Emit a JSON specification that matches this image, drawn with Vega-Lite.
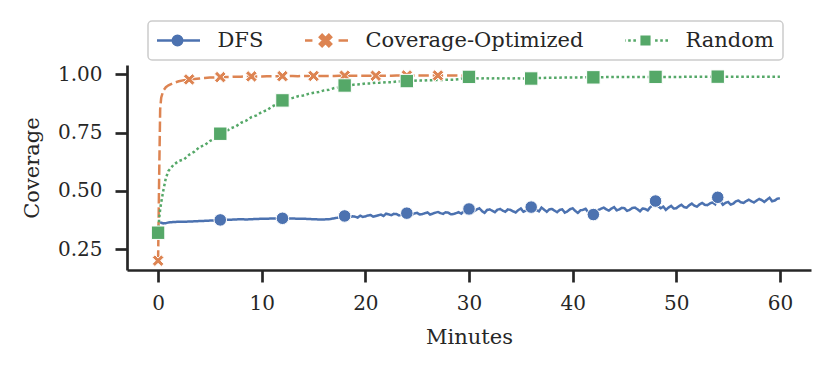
{
  "$schema": "https://vega.github.io/schema/vega-lite/v6.json",
  "width": 684,
  "height": 205,
  "autosize": "none",
  "padding": {"left": 127, "top": 65, "right": 20, "bottom": 101},
  "background": "white",
  "config": {
    "view": {"stroke": null},
    "axis": {
      "grid": false,
      "domainColor": "#262626",
      "domainWidth": 2.7,
      "tickColor": "#262626",
      "tickWidth": 2.7,
      "tickSize": 12,
      "labelFont": "DejaVu Serif",
      "labelFontSize": 20,
      "labelColor": "#262626",
      "titleFont": "DejaVu Serif",
      "titleFontSize": 21,
      "titleFontWeight": "normal",
      "titleColor": "#262626"
    },
    "legend": {
      "labelFont": "DejaVu Serif",
      "labelFontSize": 21,
      "labelColor": "#262626"
    }
  },
  "data": {
    "values": [
      {"t": 0, "Coverage-Optimized": 0.2, "Random": 0.32},
      {"t": 0.1, "Coverage-Optimized": 0.55, "Random": 0.38},
      {"t": 0.2, "DFS": 0.365, "Coverage-Optimized": 0.85, "Random": 0.42},
      {"t": 0.3, "DFS": 0.363, "Coverage-Optimized": 0.9, "Random": 0.45},
      {"t": 0.5, "DFS": 0.36, "Coverage-Optimized": 0.93, "Random": 0.5},
      {"t": 0.75, "DFS": 0.361, "Coverage-Optimized": 0.945, "Random": 0.555},
      {"t": 1, "DFS": 0.364, "Coverage-Optimized": 0.953, "Random": 0.585},
      {"t": 1.5, "DFS": 0.366, "Coverage-Optimized": 0.963, "Random": 0.612},
      {"t": 2, "DFS": 0.367, "Coverage-Optimized": 0.97, "Random": 0.628},
      {"t": 2.5, "DFS": 0.367, "Coverage-Optimized": 0.975, "Random": 0.635},
      {"t": 3, "DFS": 0.368, "Coverage-Optimized": 0.978, "Random": 0.655},
      {"t": 3.5, "DFS": 0.369, "Coverage-Optimized": 0.98, "Random": 0.668},
      {"t": 4, "DFS": 0.37, "Coverage-Optimized": 0.982, "Random": 0.688},
      {"t": 4.5, "DFS": 0.371, "Coverage-Optimized": 0.984, "Random": 0.696},
      {"t": 5, "DFS": 0.372, "Coverage-Optimized": 0.986, "Random": 0.714},
      {"t": 5.5, "DFS": 0.373, "Coverage-Optimized": 0.987, "Random": 0.725},
      {"t": 6, "DFS": 0.375, "Coverage-Optimized": 0.988, "Random": 0.745},
      {"t": 6.5, "DFS": 0.376, "Coverage-Optimized": 0.989, "Random": 0.752},
      {"t": 7, "DFS": 0.376, "Coverage-Optimized": 0.989, "Random": 0.768},
      {"t": 7.5, "DFS": 0.377, "Coverage-Optimized": 0.99, "Random": 0.776},
      {"t": 8, "DFS": 0.378, "Coverage-Optimized": 0.99, "Random": 0.792},
      {"t": 8.5, "DFS": 0.377, "Coverage-Optimized": 0.991, "Random": 0.801},
      {"t": 9, "DFS": 0.378, "Coverage-Optimized": 0.991, "Random": 0.816},
      {"t": 9.5, "DFS": 0.379, "Coverage-Optimized": 0.991, "Random": 0.824},
      {"t": 10, "DFS": 0.38, "Coverage-Optimized": 0.991, "Random": 0.838},
      {"t": 10.5, "DFS": 0.38, "Coverage-Optimized": 0.992, "Random": 0.846},
      {"t": 11, "DFS": 0.381, "Coverage-Optimized": 0.992, "Random": 0.862},
      {"t": 11.5, "DFS": 0.381, "Coverage-Optimized": 0.992, "Random": 0.872},
      {"t": 12, "DFS": 0.382, "Coverage-Optimized": 0.992, "Random": 0.888},
      {"t": 12.5, "DFS": 0.381, "Coverage-Optimized": 0.992, "Random": 0.893},
      {"t": 13, "DFS": 0.381, "Coverage-Optimized": 0.993, "Random": 0.899},
      {"t": 13.5, "DFS": 0.38, "Coverage-Optimized": 0.992, "Random": 0.906},
      {"t": 14, "DFS": 0.38, "Coverage-Optimized": 0.993, "Random": 0.909},
      {"t": 14.5, "DFS": 0.379, "Coverage-Optimized": 0.993, "Random": 0.916},
      {"t": 15, "DFS": 0.378, "Coverage-Optimized": 0.993, "Random": 0.921},
      {"t": 15.5, "DFS": 0.377, "Coverage-Optimized": 0.993, "Random": 0.924},
      {"t": 16, "DFS": 0.377, "Coverage-Optimized": 0.993, "Random": 0.931},
      {"t": 16.5, "DFS": 0.378, "Coverage-Optimized": 0.993, "Random": 0.934},
      {"t": 17, "DFS": 0.382, "Coverage-Optimized": 0.993, "Random": 0.941},
      {"t": 17.5, "DFS": 0.386, "Coverage-Optimized": 0.994, "Random": 0.944},
      {"t": 18, "DFS": 0.392, "Coverage-Optimized": 0.994, "Random": 0.952},
      {"t": 18.5, "DFS": 0.386, "Coverage-Optimized": 0.994, "Random": 0.953},
      {"t": 19, "DFS": 0.389, "Coverage-Optimized": 0.994, "Random": 0.956},
      {"t": 19.5, "DFS": 0.393, "Coverage-Optimized": 0.994, "Random": 0.957},
      {"t": 20, "DFS": 0.39, "Coverage-Optimized": 0.994, "Random": 0.961},
      {"t": 20.5, "DFS": 0.396, "Coverage-Optimized": 0.994, "Random": 0.961},
      {"t": 21, "DFS": 0.392, "Coverage-Optimized": 0.994, "Random": 0.964},
      {"t": 21.5, "DFS": 0.398, "Coverage-Optimized": 0.994, "Random": 0.964},
      {"t": 22, "DFS": 0.402, "Coverage-Optimized": 0.994, "Random": 0.966},
      {"t": 22.5, "DFS": 0.395, "Coverage-Optimized": 0.994, "Random": 0.966},
      {"t": 23, "DFS": 0.4, "Coverage-Optimized": 0.995, "Random": 0.969},
      {"t": 23.5, "DFS": 0.397, "Coverage-Optimized": 0.995, "Random": 0.97},
      {"t": 24, "DFS": 0.404, "Coverage-Optimized": 0.995, "Random": 0.971},
      {"t": 24.5, "DFS": 0.398, "Coverage-Optimized": 0.995, "Random": 0.972},
      {"t": 25, "DFS": 0.405, "Coverage-Optimized": 0.995, "Random": 0.974},
      {"t": 25.5, "DFS": 0.4, "Coverage-Optimized": 0.995, "Random": 0.973},
      {"t": 26, "DFS": 0.407, "Coverage-Optimized": 0.995, "Random": 0.975},
      {"t": 26.5, "DFS": 0.402, "Coverage-Optimized": 0.995, "Random": 0.975},
      {"t": 27, "DFS": 0.409, "Coverage-Optimized": 0.995, "Random": 0.976},
      {"t": 27.5, "DFS": 0.401, "Coverage-Optimized": 0.995, "Random": 0.976},
      {"t": 28, "DFS": 0.406, "Coverage-Optimized": 0.995, "Random": 0.977},
      {"t": 28.5, "DFS": 0.4, "Coverage-Optimized": 0.995, "Random": 0.977},
      {"t": 29, "DFS": 0.408, "Coverage-Optimized": 0.995, "Random": 0.979},
      {"t": 29.5, "DFS": 0.412, "Coverage-Optimized": 0.994, "Random": 0.983},
      {"t": 30, "DFS": 0.422, "Random": 0.989},
      {"t": 30.5, "DFS": 0.412, "Random": 0.983},
      {"t": 31, "DFS": 0.425, "Random": 0.982},
      {"t": 31.5, "DFS": 0.405, "Random": 0.983},
      {"t": 32, "DFS": 0.42, "Random": 0.982},
      {"t": 32.5, "DFS": 0.408, "Random": 0.983},
      {"t": 33, "DFS": 0.422, "Random": 0.982},
      {"t": 33.5, "DFS": 0.41, "Random": 0.983},
      {"t": 34, "DFS": 0.418, "Random": 0.982},
      {"t": 34.5, "DFS": 0.407, "Random": 0.983},
      {"t": 35, "DFS": 0.424, "Random": 0.982},
      {"t": 35.5, "DFS": 0.415, "Random": 0.982},
      {"t": 36, "DFS": 0.43, "Random": 0.982},
      {"t": 36.5, "DFS": 0.418, "Random": 0.984},
      {"t": 37, "DFS": 0.428, "Random": 0.984},
      {"t": 37.5, "DFS": 0.41, "Random": 0.985},
      {"t": 38, "DFS": 0.422, "Random": 0.985},
      {"t": 38.5, "DFS": 0.408, "Random": 0.985},
      {"t": 39, "DFS": 0.42, "Random": 0.986},
      {"t": 39.5, "DFS": 0.412, "Random": 0.986},
      {"t": 40, "DFS": 0.425, "Random": 0.986},
      {"t": 40.5, "DFS": 0.405, "Random": 0.986},
      {"t": 41, "DFS": 0.418, "Random": 0.987},
      {"t": 41.5, "DFS": 0.408, "Random": 0.987},
      {"t": 42, "DFS": 0.398, "Random": 0.987},
      {"t": 42.5, "DFS": 0.418, "Random": 0.987},
      {"t": 43, "DFS": 0.428, "Random": 0.988},
      {"t": 43.5, "DFS": 0.415, "Random": 0.988},
      {"t": 44, "DFS": 0.43, "Random": 0.988},
      {"t": 44.5, "DFS": 0.42, "Random": 0.988},
      {"t": 45, "DFS": 0.425, "Random": 0.988},
      {"t": 45.5, "DFS": 0.418, "Random": 0.988},
      {"t": 46, "DFS": 0.428, "Random": 0.989},
      {"t": 46.5, "DFS": 0.412, "Random": 0.989},
      {"t": 47, "DFS": 0.422, "Random": 0.989},
      {"t": 47.5, "DFS": 0.43, "Random": 0.989},
      {"t": 48, "DFS": 0.456, "Random": 0.989},
      {"t": 48.5, "DFS": 0.425, "Random": 0.989},
      {"t": 49, "DFS": 0.418, "Random": 0.989},
      {"t": 49.5, "DFS": 0.435, "Random": 0.989},
      {"t": 50, "DFS": 0.425, "Random": 0.989},
      {"t": 50.5, "DFS": 0.44, "Random": 0.989},
      {"t": 51, "DFS": 0.428, "Random": 0.99},
      {"t": 51.5, "DFS": 0.445, "Random": 0.99},
      {"t": 52, "DFS": 0.432, "Random": 0.99},
      {"t": 52.5, "DFS": 0.448, "Random": 0.99},
      {"t": 53, "DFS": 0.438, "Random": 0.99},
      {"t": 53.5, "DFS": 0.45, "Random": 0.99},
      {"t": 54, "DFS": 0.472, "Random": 0.99},
      {"t": 54.5, "DFS": 0.44, "Random": 0.99},
      {"t": 55, "DFS": 0.452, "Random": 0.99},
      {"t": 55.5, "DFS": 0.445, "Random": 0.99},
      {"t": 56, "DFS": 0.458, "Random": 0.99},
      {"t": 56.5, "DFS": 0.448, "Random": 0.99},
      {"t": 57, "DFS": 0.462, "Random": 0.99},
      {"t": 57.5, "DFS": 0.45, "Random": 0.99},
      {"t": 58, "DFS": 0.465, "Random": 0.99},
      {"t": 58.5, "DFS": 0.452, "Random": 0.99},
      {"t": 59, "DFS": 0.47, "Random": 0.99},
      {"t": 59.5, "DFS": 0.458, "Random": 0.99},
      {"t": 60, "DFS": 0.468, "Random": 0.99},
      {"t": 18.25, "DFS": 0.385}, {"t": 18.75, "DFS": 0.391}, {"t": 19.25, "DFS": 0.385}, {"t": 19.75, "DFS": 0.388},
      {"t": 20.25, "DFS": 0.394}, {"t": 20.75, "DFS": 0.389}, {"t": 21.25, "DFS": 0.395}, {"t": 21.75, "DFS": 0.392},
      {"t": 22.25, "DFS": 0.399}, {"t": 22.75, "DFS": 0.401}, {"t": 23.25, "DFS": 0.394}, {"t": 23.75, "DFS": 0.402},
      {"t": 24.25, "DFS": 0.399}, {"t": 24.75, "DFS": 0.403}, {"t": 25.25, "DFS": 0.398}, {"t": 25.75, "DFS": 0.404},
      {"t": 26.25, "DFS": 0.398}, {"t": 26.75, "DFS": 0.406}, {"t": 27.25, "DFS": 0.404}, {"t": 27.75, "DFS": 0.408},
      {"t": 28.25, "DFS": 0.399}, {"t": 28.75, "DFS": 0.404}, {"t": 29.25, "DFS": 0.402}, {"t": 29.75, "DFS": 0.416},
      {"t": 30.25, "DFS": 0.418}, {"t": 30.75, "DFS": 0.42}, {"t": 31.25, "DFS": 0.413}, {"t": 31.75, "DFS": 0.418},
      {"t": 32.25, "DFS": 0.414}, {"t": 32.75, "DFS": 0.419}, {"t": 33.25, "DFS": 0.415}, {"t": 33.75, "DFS": 0.42},
      {"t": 34.25, "DFS": 0.412}, {"t": 34.75, "DFS": 0.417}, {"t": 35.25, "DFS": 0.41}, {"t": 35.75, "DFS": 0.421},
      {"t": 36.25, "DFS": 0.414}, {"t": 36.75, "DFS": 0.412}, {"t": 37.25, "DFS": 0.419}, {"t": 37.75, "DFS": 0.42},
      {"t": 38.25, "DFS": 0.415}, {"t": 38.75, "DFS": 0.418}, {"t": 39.25, "DFS": 0.406}, {"t": 39.75, "DFS": 0.421},
      {"t": 40.25, "DFS": 0.414}, {"t": 40.75, "DFS": 0.416}, {"t": 41.25, "DFS": 0.423}, {"t": 41.75, "DFS": 0.412},
      {"t": 42.25, "DFS": 0.41}, {"t": 42.75, "DFS": 0.423}, {"t": 43.25, "DFS": 0.42}, {"t": 43.75, "DFS": 0.424},
      {"t": 44.25, "DFS": 0.416}, {"t": 44.75, "DFS": 0.427}, {"t": 45.25, "DFS": 0.414}, {"t": 45.75, "DFS": 0.426},
      {"t": 46.25, "DFS": 0.421}, {"t": 46.75, "DFS": 0.424}, {"t": 47.25, "DFS": 0.416}, {"t": 47.75, "DFS": 0.438},
      {"t": 48.25, "DFS": 0.434}, {"t": 48.75, "DFS": 0.432}, {"t": 49.25, "DFS": 0.428}, {"t": 49.75, "DFS": 0.424},
      {"t": 50.25, "DFS": 0.434}, {"t": 50.75, "DFS": 0.43}, {"t": 51.25, "DFS": 0.438}, {"t": 51.75, "DFS": 0.436},
      {"t": 52.25, "DFS": 0.442}, {"t": 52.75, "DFS": 0.44}, {"t": 53.25, "DFS": 0.446}, {"t": 53.75, "DFS": 0.442},
      {"t": 54.25, "DFS": 0.456}, {"t": 54.75, "DFS": 0.448}, {"t": 55.25, "DFS": 0.441}, {"t": 55.75, "DFS": 0.455},
      {"t": 56.25, "DFS": 0.45}, {"t": 56.75, "DFS": 0.456}, {"t": 57.25, "DFS": 0.455}, {"t": 57.75, "DFS": 0.458},
      {"t": 58.25, "DFS": 0.46}, {"t": 58.75, "DFS": 0.462}, {"t": 59.25, "DFS": 0.455}, {"t": 59.75, "DFS": 0.466}
    ]
  },
  "transform": [
    {"fold": ["DFS", "Coverage-Optimized", "Random"], "as": ["series", "v"]},
    {"filter": "isValid(datum.v)"}
  ],
  "encoding": {
    "x": {
      "field": "t", "type": "quantitative", "title": "Minutes",
      "scale": {"domain": [-3, 63], "nice": false, "zero": false},
      "axis": {"values": [0, 10, 20, 30, 40, 50, 60], "labelPadding": 11, "titlePadding": 13}
    },
    "y": {
      "field": "v", "type": "quantitative", "title": "Coverage",
      "scale": {"domain": [0.16, 1.04], "nice": false, "zero": false},
      "axis": {"values": [0.25, 0.5, 0.75, 1.0], "format": ".2f", "labelPadding": 13, "titlePadding": 15}
    },
    "color": {
      "field": "series", "type": "nominal",
      "scale": {"domain": ["DFS", "Coverage-Optimized", "Random"], "range": ["#4c72b0", "#dd8452", "#55a868"]},
      "legend": {
        "title": null,
        "orient": "none",
        "legendX": 21,
        "legendY": -44,
        "direction": "horizontal",
        "columns": 3,
        "padding": 9,
        "symbolSize": 2025,
        "symbolStrokeWidth": 2.5,
        "symbolOffset": -3.5,
        "labelOffset": 16,
        "columnPadding": 41,
        "clipHeight": 21,
        "fillColor": "white",
        "strokeColor": "#cccccc",
        "cornerRadius": 4,
        "labelFont": "DejaVu Serif",
        "labelFontSize": 21,
        "labelColor": "#262626",
        "labelLimit": 400,
        "encode": {
          "legend": {"update": {"strokeWidth": {"value": 1.5}}},
          "symbols": {
            "update": {
              "shape": {"signal": "datum.value === 'DFS' ? 'M-1,0L1,0M0.21,0A0.21,0.21,0,1,1,-0.21,0A0.21,0.21,0,1,1,0.21,0Z' : datum.value === 'Random' ? 'M-1,0L-0.885,0M-0.77,0L-0.655,0M-0.54,0L-0.425,0M0.425,0L0.54,0M0.655,0L0.77,0M0.885,0L1,0M-0.17,-0.17L0.17,-0.17L0.17,0.17L-0.17,0.17Z' : 'M-1,0L-0.58,0M0.58,0L1,0M0,-0.1L0.15,-0.25L0.25,-0.15L0.1,0L0.25,0.15L0.15,0.25L0,0.1L-0.15,0.25L-0.25,0.15L-0.1,0L-0.25,-0.15L-0.15,-0.25Z'"},
              "fill": {"scale": "color", "field": "value"},
              "stroke": {"scale": "color", "field": "value"},
              "size": {"value": 2025},
              "strokeWidth": {"value": 2.5},
              "strokeDash": {"value": []},
              "opacity": {"value": 1}
            }
          }
        }
      }
    }
  },
  "layer": [
    {
      "mark": {"type": "line", "strokeWidth": 2.5},
      "encoding": {
        "strokeDash": {
          "field": "series", "type": "nominal",
          "scale": {"domain": ["Random", "DFS", "Coverage-Optimized"], "range": [[2.6, 2.6], [1, 0], [10.4, 3.9]]},
          "legend": null
        }
      }
    },
    {
      "transform": [
        {"filter": "datum.t < 60 && ((datum.series === 'Coverage-Optimized' && datum.t % 3 === 0) || (datum.series !== 'Coverage-Optimized' && datum.t % 6 === 0))"}
      ],
      "mark": {"type": "point", "filled": true, "opacity": 1, "stroke": "white", "strokeWidth": 1},
      "encoding": {
        "shape": {
          "field": "series", "type": "nominal",
          "scale": {"domain": ["DFS", "Random", "Coverage-Optimized"], "range": ["circle", "square", "M0,-0.45L0.55,-1L1,-0.55L0.45,0L1,0.55L0.55,1L0,0.45L-0.55,1L-1,0.55L-0.45,0L-1,-0.55L-0.55,-1Z"]},
          "legend": null
        },
        "size": {
          "field": "series", "type": "ordinal",
          "scale": {"domain": ["Coverage-Optimized", "DFS", "Random"], "range": [135, 180, 95]},
          "legend": null
        }
      }
    }
  ]
}
